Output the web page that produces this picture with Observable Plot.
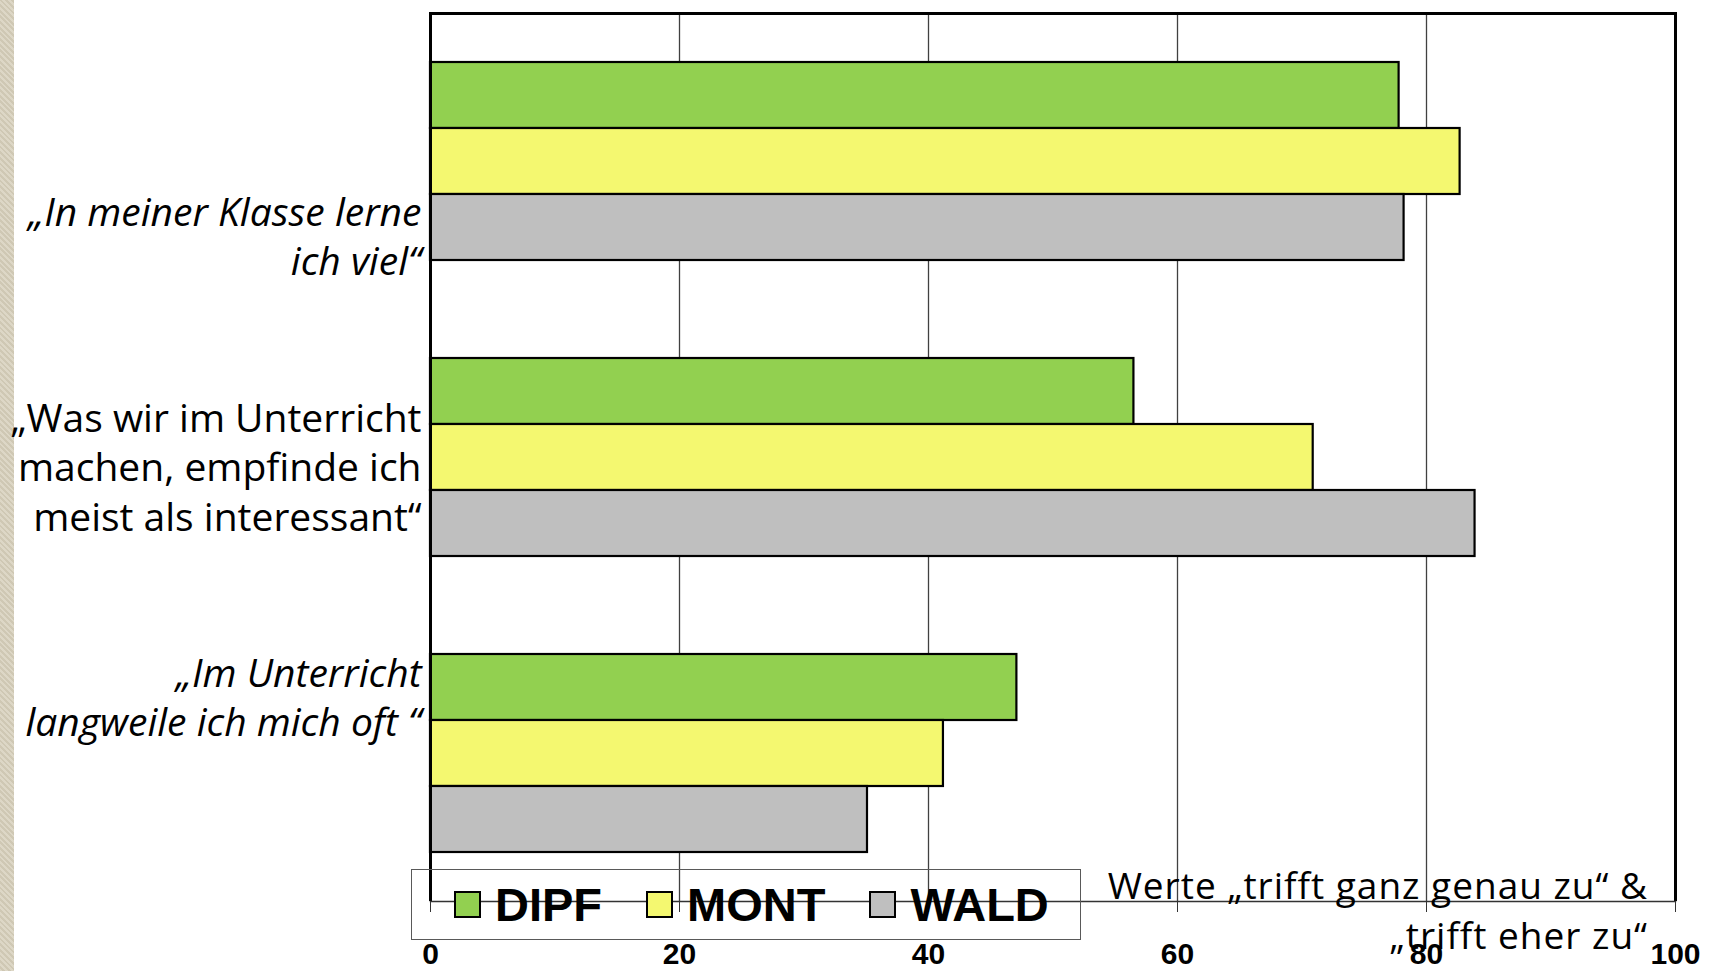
<!DOCTYPE html>
<html>
<head>
<meta charset="utf-8">
<script src="https://cdn.jsdelivr.net/npm/d3@7"></script>
<script src="https://cdn.jsdelivr.net/npm/@observablehq/plot@0.6"></script>
<style>
  html, body { margin: 0; padding: 0; background: #fff; overflow: hidden; }
  #wrap { position: relative; width: 1711px; height: 971px; }
  #strip { position: absolute; left: 0; top: 0; width: 14px; height: 971px;
    background: repeating-linear-gradient(45deg, #ddd7c6 0px, #ddd7c6 2px, #cfc8b4 2px, #cfc8b4 4px); }
  #chart { position: absolute; left: 0; top: 0; }
  #legend { position: absolute; left: 411px; top: 869px; width: 670px; height: 71px;
    border: 1.5px solid #595959; box-sizing: border-box; display: flex; align-items: center;
    padding-left: 42px; }
  .item { display: flex; align-items: center; margin-right: 44px; }
  .sw { width: 27px; height: 27px; border: 2px solid #000; box-sizing: border-box; margin-right: 14px; }
  .lt { font-family: "Liberation Sans", Arial, sans-serif; font-weight: bold; font-size: 47px; line-height: 1; color: #000; }
  #note { position: absolute; right: 63px; top: 860px; text-align: right;
    font-family: "Open Sans", sans-serif; font-size: 37px; letter-spacing: 1px; line-height: 50px; color: #000; white-space: pre; }
</style>
</head>
<body>
<div id="wrap">
  <div id="strip"></div>
  <div id="chart"></div>
  <div id="legend"></div>
  <div id="note"></div>
</div>
<script>
// ---- data ----
const questions = [
  "„In meiner Klasse lerne\nich viel“",
  "„Was wir im Unterricht\nmachen, empfinde ich\nmeist als interessant“",
  "„Im Unterricht\nlangweile ich mich oft “"
];
const seriesNames = ["DIPF", "MONT", "WALD"];
const dipfValues = [77.8, 56.5, 47.1];
const montValues = [82.7, 70.9, 41.2];
const waldValues = [78.2, 83.9, 35.1];
const seriesColors = ["#92D050", "#F4F870", "#BFBFBF"];
const xTicks = [0, 20, 40, 60, 80, 100];
const noteLines = ["Werte „trifft ganz genau zu“ &", "„trifft eher zu“"];

// label styling / placement per question
const labelStyles = ["italic", "normal", "italic"];
const labelOffsets = [73, 8, -58];

// ---- table ----
const valuesBySeries = [dipfValues, montValues, waldValues];
const rows = [];
questions.forEach((q, i) => {
  seriesNames.forEach((s, j) => rows.push({question: q, series: s, value: valuesBySeries[j][i]}));
});

const chart = Plot.plot({
  width: 1711,
  height: 971,
  marginLeft: 430,
  marginRight: 36,
  marginTop: 12,
  marginBottom: 69,
  style: {background: "transparent", fontFamily: "'Open Sans', sans-serif", color: "#000"},
  x: {domain: [0, 100], axis: null},
  y: {domain: seriesNames, paddingInner: 0, paddingOuter: 0.72, axis: null},
  fy: {domain: questions, padding: 0, axis: null},
  color: {domain: seriesNames, range: seriesColors},
  marks: [
    Plot.ruleX(xTicks.slice(1, -1), {stroke: "#404040", strokeWidth: 1.3}),
    Plot.barX(rows, {x: "value", y: "series", fy: "question", fill: "series", stroke: "#000", strokeWidth: 2.2}),
    Plot.ruleX([0, 100], {stroke: "#000", strokeWidth: 3}),
    Plot.frame({anchor: "top", facet: "super", stroke: "#000", strokeWidth: 3}),
    Plot.frame({anchor: "bottom", facet: "super", stroke: "#333", strokeWidth: 1.5}),
    Plot.axisX(xTicks, {tickSize: 11, tickPadding: 30, fontSize: 30, fontWeight: "bold",
      fontFamily: "Liberation Sans, Arial, sans-serif", stroke: "#333", label: null}),
    ...questions.map((q, i) => Plot.text([q], {
      fy: d => d, text: d => d, frameAnchor: "left", textAnchor: "end",
      dx: -9, dy: labelOffsets[i], fontSize: 39, lineHeight: 1.28,
      fontFamily: "'Open Sans', sans-serif",
      fontStyle: labelStyles[i], fill: "#000"
    }))
  ]
});
document.getElementById("chart").appendChild(chart);

// legend
const legend = document.getElementById("legend");
seriesNames.forEach((s, i) => {
  const item = document.createElement("div");
  item.className = "item";
  const sw = document.createElement("div");
  sw.className = "sw";
  sw.style.background = seriesColors[i];
  const lt = document.createElement("div");
  lt.className = "lt";
  lt.textContent = s;
  item.appendChild(sw);
  item.appendChild(lt);
  legend.appendChild(item);
});

document.getElementById("note").textContent = noteLines.join("\n");
</script>
</body>
</html>
